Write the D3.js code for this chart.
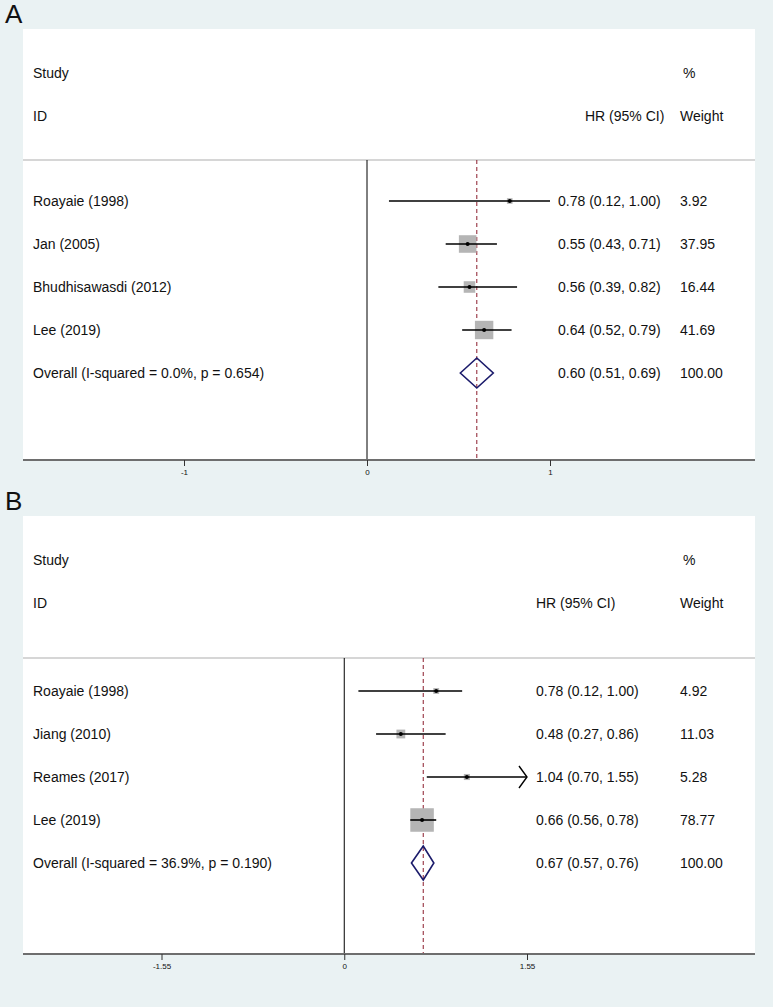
<!DOCTYPE html>
<html lang="en">
<head>
    <meta charset="UTF-8">
    <title>Forest plots</title>
    <script src="https://d3js.org/d3.v7.min.js"></script>
    <style>
        body { margin: 0; background: #eaf2f3; }
        text { font-family: "Liberation Sans", Arial, sans-serif; fill: #111; }
        .tick-label { font-family: "Liberation Sans Narrow", "Liberation Sans", Arial, sans-serif; font-size: 8px; }
        .panel-label { font-family: "Liberation Sans Narrow", "Liberation Sans", Arial, sans-serif; font-size: 26px; }
    </style>
</head>
<body>
    <div id="chart"></div>
    <script>
        // Panel A data
        const studiesA = ["Roayaie (1998)", "Jan (2005)", "Bhudhisawasdi (2012)", "Lee (2019)"];
        const hrA = [0.78, 0.55, 0.56, 0.64];
        const loA = [0.12, 0.43, 0.39, 0.52];
        const hiA = [1.00, 0.71, 0.82, 0.79];
        const weightA = [3.92, 37.95, 16.44, 41.69];
        const overallA = { label: "Overall  (I-squared = 0.0%, p = 0.654)", hr: 0.60, lo: 0.51, hi: 0.69 };
        const ticksA = [-1, 0, 1];
        const tickLabelsA = ["-1", "0", "1"];

        // Panel B data
        const studiesB = ["Roayaie (1998)", "Jiang (2010)", "Reames (2017)", "Lee (2019)"];
        const hrB = [0.78, 0.48, 1.04, 0.66];
        const loB = [0.12, 0.27, 0.70, 0.56];
        const hiB = [1.00, 0.86, 1.55, 0.78];
        const weightB = [4.92, 11.03, 5.28, 78.77];
        const overallB = { label: "Overall  (I-squared = 36.9%, p = 0.190)", hr: 0.67, lo: 0.57, hi: 0.76 };
        const ticksB = [-1.55, 0, 1.55];
        const tickLabelsB = ["-1.55", "0", "1.55"];

        const W = 773, H = 1007;
        const svg = d3.select("#chart").append("svg")
            .attr("width", W).attr("height", H);

        svg.append("rect").attr("width", W).attr("height", H).attr("fill", "#eaf2f3");

        const fmt = d3.format(".2f");

        function drawPanel(p) {
            const g = svg.append("g");
            const boxL = 23, boxR = 755;

            // white plot area
            g.append("rect")
                .attr("x", boxL).attr("y", p.top)
                .attr("width", boxR - boxL).attr("height", p.axisY - p.top)
                .attr("fill", "#fff");

            g.append("text").attr("class", "panel-label")
                .attr("x", 5).attr("y", p.top - 6).text(p.name);

            const x = d3.scaleLinear()
                .domain([p.ticks[0], p.ticks[p.ticks.length - 1]])
                .range(p.tickRange);

            const y = d3.scaleLinear().domain([0, 1]).range([p.row0, p.row0 + 43]);

            // headers
            const hdr1 = p.top + 44, hdr2 = p.top + 87;
            g.append("text").attr("x", 33).attr("y", hdr1).attr("dy", "0.35em").style("font-size", "14px").text("Study");
            g.append("text").attr("x", 33).attr("y", hdr2).attr("dy", "0.35em").style("font-size", "14px").text("ID");
            g.append("text").attr("x", p.hdrX).attr("y", hdr2).attr("dy", "0.35em").style("font-size", "14px").text("HR (95% CI)");
            g.append("text").attr("x", 683).attr("y", hdr1).attr("dy", "0.35em").style("font-size", "14px").text("%");
            g.append("text").attr("x", 680).attr("y", hdr2).attr("dy", "0.35em").style("font-size", "14px").text("Weight");

            // separator
            g.append("line")
                .attr("x1", boxL).attr("x2", boxR)
                .attr("y1", p.sepY).attr("y2", p.sepY)
                .attr("stroke", "#c9c9c9").attr("stroke-width", 1.5);

            // null line
            g.append("line")
                .attr("x1", x(0)).attr("x2", x(0))
                .attr("y1", p.sepY).attr("y2", p.axisY)
                .attr("stroke", "#000").attr("stroke-width", 1);

            // overall dashed line
            g.append("line")
                .attr("x1", x(p.overall.hr)).attr("x2", x(p.overall.hr))
                .attr("y1", p.sepY).attr("y2", p.axisY)
                .attr("stroke", "#8b1c2c").attr("stroke-width", 1)
                .attr("stroke-dasharray", "4,3");

            const rows = p.studies.map((s, i) => ({
                label: s, hr: p.hr[i], lo: p.lo[i], hi: p.hi[i], w: p.weight[i], i: i
            }));
            const clip = p.clip;

            const row = g.selectAll(".row").data(rows).join("g").attr("class", "row");

            row.append("rect")
                .attr("x", d => x(d.hr) - p.boxK * Math.sqrt(d.w) / 2)
                .attr("y", d => y(d.i) - p.boxK * Math.sqrt(d.w) / 2)
                .attr("width", d => p.boxK * Math.sqrt(d.w))
                .attr("height", d => p.boxK * Math.sqrt(d.w))
                .attr("fill", "#b5b5b5");

            row.append("line")
                .attr("x1", d => x(d.lo)).attr("x2", d => x(clip ? Math.min(d.hi, clip) : d.hi))
                .attr("y1", d => y(d.i)).attr("y2", d => y(d.i))
                .attr("stroke", "#000").attr("stroke-width", 1.6);

            row.filter(d => clip && d.hi >= clip).append("path")
                .attr("d", d => {
                    const tx = x(clip), ty = y(d.i);
                    return `M${tx - 8},${ty - 11}L${tx},${ty}L${tx - 8},${ty + 11}`;
                })
                .attr("fill", "none").attr("stroke", "#000").attr("stroke-width", 1.4);

            row.append("circle")
                .attr("cx", d => x(d.hr)).attr("cy", d => y(d.i))
                .attr("r", 2).attr("fill", "#000");

            row.append("text").attr("x", 33).attr("y", d => y(d.i)).attr("dy", "0.35em")
                .style("font-size", "14px").text(d => d.label);
            row.append("text").attr("x", p.ciX).attr("y", d => y(d.i)).attr("dy", "0.35em")
                .style("font-size", "14px").text(d => `${fmt(d.hr)} (${fmt(d.lo)}, ${fmt(d.hi)})`);
            row.append("text").attr("x", 680).attr("y", d => y(d.i)).attr("dy", "0.35em")
                .style("font-size", "14px").text(d => fmt(d.w));

            // overall diamond
            const oy = y(rows.length);
            const o = p.overall;
            g.append("path")
                .attr("d", `M${x(o.lo)},${oy}L${x(o.hr)},${oy - p.dh}L${x(o.hi)},${oy}L${x(o.hr)},${oy + p.dh}Z`)
                .attr("fill", "none").attr("stroke", "#1b1b6b").attr("stroke-width", 1.6);
            g.append("text").attr("x", 33).attr("y", oy).attr("dy", "0.35em")
                .style("font-size", "14px").text(o.label);
            g.append("text").attr("x", p.ciX).attr("y", oy).attr("dy", "0.35em")
                .style("font-size", "14px").text(`${fmt(o.hr)} (${fmt(o.lo)}, ${fmt(o.hi)})`);
            g.append("text").attr("x", 680).attr("y", oy).attr("dy", "0.35em")
                .style("font-size", "14px").text("100.00");

            // x axis
            g.append("line")
                .attr("x1", boxL).attr("x2", boxR)
                .attr("y1", p.axisY).attr("y2", p.axisY)
                .attr("stroke", "#6e6e6e").attr("stroke-width", 2);

            const axis = d3.axisBottom(x)
                .tickValues(p.ticks)
                .tickFormat((d, i) => p.tickLabels[i])
                .tickSize(6).tickPadding(3);
            const ax = g.append("g").attr("transform", `translate(0,${p.axisY})`).call(axis);
            ax.select(".domain").remove();
            ax.selectAll(".tick line").attr("stroke", "#333");
            ax.selectAll(".tick text").attr("class", "tick-label").attr("fill", "#222");
        }

        drawPanel({
            name: "A", top: 29, sepY: 160, axisY: 460, row0: 201,
            tickRange: [184, 550], ciX: 558, hdrX: 585, boxK: 2.85, dh: 15, clip: null,
            studies: studiesA, hr: hrA, lo: loA, hi: hiA, weight: weightA,
            overall: overallA, ticks: ticksA, tickLabels: tickLabelsA
        });

        drawPanel({
            name: "B", top: 516, sepY: 658, axisY: 954, row0: 691,
            tickRange: [161.5, 527], ciX: 536, hdrX: 536, boxK: 2.65, dh: 17, clip: 1.55,
            studies: studiesB, hr: hrB, lo: loB, hi: hiB, weight: weightB,
            overall: overallB, ticks: ticksB, tickLabels: tickLabelsB
        });
    </script>
</body>
</html>
